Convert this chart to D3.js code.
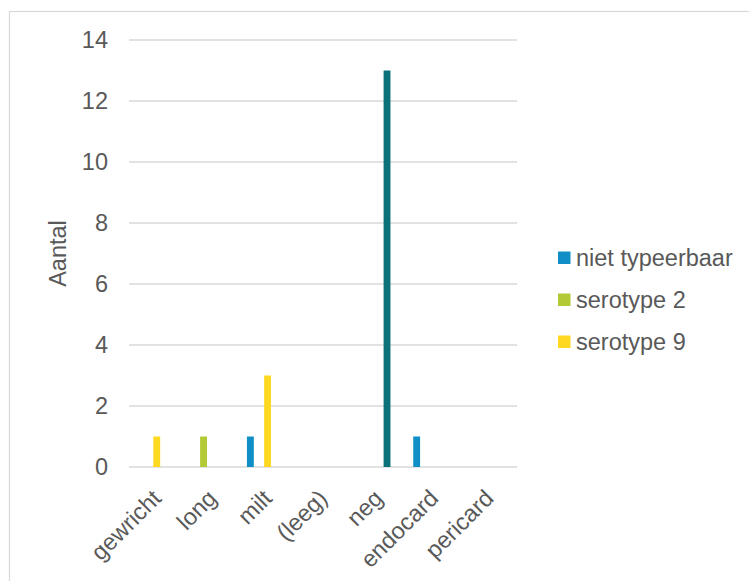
<!DOCTYPE html>
<html>
<head>
<meta charset="utf-8">
<script src="https://cdn.jsdelivr.net/npm/d3@7"></script>
<style>
  html, body { margin: 0; padding: 0; background: #fff; }
  svg { display: block; font-family: "Liberation Sans", Arial, sans-serif; }
</style>
</head>
<body>
<svg id="chart" width="749" height="581"></svg>
<script>
// Sample sites (categories on the x axis)
const categories = ["gewricht", "long", "milt", "(leeg)", "neg", "endocard", "pericard"];

// Series slots in the cluster; the last two are not listed in the legend
const seriesKeys = ["niet typeerbaar", "serotype 2", "serotype 9", "neg", "(leeg)"];
const legendKeys = ["niet typeerbaar", "serotype 2", "serotype 9"];

// Counts per series, one value per category (null = no bar)
const nietTypeerbaar = [null, null, 1, null, null, 1, null];
const serotype2      = [null, 1, null, null, null, null, null];
const serotype9      = [1, null, 3, null, null, null, null];
const negatief       = [null, null, null, null, 13, null, null];
const leeg           = [null, null, null, null, null, null, null];

const yTicks = [0, 2, 4, 6, 8, 10, 12, 14];

const seriesValues = {
  "niet typeerbaar": nietTypeerbaar,
  "serotype 2": serotype2,
  "serotype 9": serotype9,
  "neg": negatief,
  "(leeg)": leeg
};
const colors = {
  "niet typeerbaar": "#0F8FC6",
  "serotype 2": "#B3C935",
  "serotype 9": "#FFD822",
  "neg": "#0C7279",
  "(leeg)": "#7F7F7F"
};

const svg = d3.select("#chart");
const textColor = "#595959";
const gridColor = "#D9D9D9";
const fontSize = "23.5px";

// Outer frame of the chart area
svg.append("rect")
  .attr("x", 9.5).attr("y", 11.5)
  .attr("width", 800).attr("height", 700)
  .attr("fill", "none").attr("stroke", gridColor).attr("stroke-width", 1.2);

const plot = { left: 129, right: 517, top: 40, bottom: 467 };

const x = d3.scaleBand().domain(categories).range([plot.left, plot.right]).padding(0);
const x1 = d3.scaleBand().domain(seriesKeys)
  .range([-21.5, 21.5]).paddingInner(0.2).paddingOuter(0.1);
const y = d3.scaleLinear().domain([0, 14]).range([plot.bottom, plot.top]);

// Horizontal gridlines
svg.append("g").selectAll("line").data(yTicks).join("line")
  .attr("x1", plot.left).attr("x2", plot.right)
  .attr("y1", d => y(d)).attr("y2", d => y(d))
  .attr("stroke", gridColor).attr("stroke-width", 1.5);

// Y axis tick labels
const yAxis = d3.axisLeft(y).tickValues(yTicks).tickSize(0).tickPadding(0);
const gy = svg.append("g").attr("transform", "translate(108,0)").call(yAxis);
gy.attr("font-size", null).attr("font-family", null);
gy.select(".domain").remove();
gy.selectAll("text")
  .attr("fill", textColor)
  .style("font-size", fontSize);

// Y axis title
svg.append("text")
  .attr("transform", `translate(66,${(plot.top + plot.bottom) / 2}) rotate(-90)`)
  .attr("text-anchor", "middle")
  .attr("fill", textColor)
  .style("font-size", fontSize)
  .text("Aantal");

// Bars
const barData = [];
seriesKeys.forEach(k => {
  seriesValues[k].forEach((v, i) => {
    if (v != null) barData.push({ key: k, cat: categories[i], value: v });
  });
});
svg.append("g").selectAll("rect").data(barData).join("rect")
  .attr("x", d => x(d.cat) + x.bandwidth() / 2 + x1(d.key))
  .attr("width", x1.bandwidth())
  .attr("y", d => y(d.value))
  .attr("height", d => y(0) - y(d.value))
  .attr("fill", d => colors[d.key]);

// X axis category labels, rotated
const xAxis = d3.axisBottom(x).tickSize(0).tickPadding(0);
const gx = svg.append("g").attr("transform", `translate(0,${plot.bottom})`).call(xAxis);
gx.attr("font-size", null).attr("font-family", null);
gx.select(".domain").remove();
gx.selectAll(".tick text")
  .attr("y", 0).attr("dy", "0.35em")
  .attr("text-anchor", "end")
  .attr("transform", "translate(0,27) rotate(-45)")
  .attr("fill", textColor)
  .style("font-size", fontSize);

// Legend
const legend = svg.append("g");
const rowY = d3.scalePoint().domain(legendKeys).range([258, 342]);
const item = legend.selectAll("g").data(legendKeys).join("g")
  .attr("transform", d => `translate(558,${rowY(d)})`);
item.append("rect")
  .attr("x", 0).attr("y", -6.5).attr("width", 12.5).attr("height", 12.5)
  .attr("fill", d => colors[d]);
item.append("text")
  .attr("x", 18).attr("dy", "0.35em")
  .attr("fill", textColor)
  .style("font-size", fontSize)
  .text(d => d);
</script>
</body>
</html>
